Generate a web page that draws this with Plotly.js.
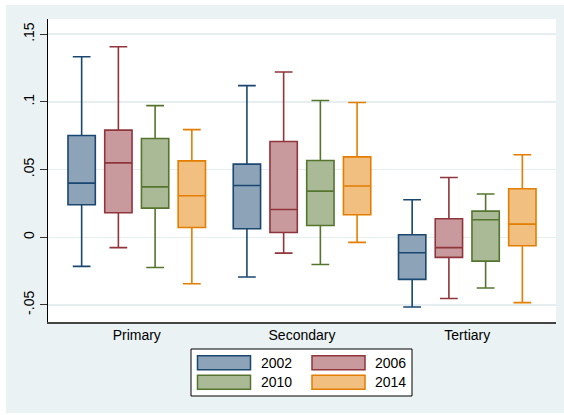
<!DOCTYPE html>
<html>
<head>
<meta charset="utf-8">
<script src="https://cdn.plot.ly/plotly-3.0.1.min.js"></script>
<style>
  html, body { margin: 0; padding: 0; background: #ffffff; width: 564px; height: 415px; overflow: hidden; }
  #chart { position: absolute; left: 6px; top: 5px; width: 558px; height: 408px; }
</style>
</head>
<body>
<div id="chart"></div>
<script>
// ---- Data ----
var categories = ['Primary', 'Secondary', 'Tertiary'];
var years = ['2002', '2006', '2010', '2014'];

var upper2002 = [0.1333, 0.1120, 0.0277];
var q3_2002   = [0.0751, 0.0540, 0.0018];
var med2002   = [0.0400, 0.0382, -0.0114];
var q1_2002   = [0.0240, 0.0063, -0.0311];
var lower2002 = [-0.0215, -0.0294, -0.0515];

var upper2006 = [0.1407, 0.1221, 0.0441];
var q3_2006   = [0.0791, 0.0707, 0.0137];
var med2006   = [0.0549, 0.0205, -0.0077];
var q1_2006   = [0.0181, 0.0035, -0.0149];
var lower2006 = [-0.0077, -0.0117, -0.0452];

var upper2010 = [0.0972, 0.1010, 0.0319];
var q3_2010   = [0.0729, 0.0567, 0.0193];
var med2010   = [0.0372, 0.0341, 0.0129];
var q1_2010   = [0.0215, 0.0087, -0.0176];
var lower2010 = [-0.0223, -0.0201, -0.0375];

var upper2014 = [0.0795, 0.0995, 0.0609];
var q3_2014   = [0.0564, 0.0594, 0.0358];
var med2014   = [0.0306, 0.0378, 0.0097];
var q1_2014   = [0.0072, 0.0166, -0.0063];
var lower2014 = [-0.0343, -0.0038, -0.0483];

var yTickVals = [-0.05, 0, 0.05, 0.1, 0.15];
var yTickText = ['-.05', '0', '.05', '.1', '.15'];

// ---- Styles ----
var lineColors = ['#1A476F', '#90353B', '#55752F', '#E37E00'];
var fillColors = ['#8CA3B8', '#C89A9D', '#AABA97', '#F1BF80'];
var FONT = 'Liberation Sans, Arial, Helvetica, sans-serif';

var stats = [
  [upper2002, q3_2002, med2002, q1_2002, lower2002],
  [upper2006, q3_2006, med2006, q1_2006, lower2006],
  [upper2010, q3_2010, med2010, q1_2010, lower2010],
  [upper2014, q3_2014, med2014, q1_2014, lower2014]
];

var traces = years.map(function (yr, i) {
  var s = stats[i];
  return {
    type: 'box',
    name: yr,
    x: categories,
    upperfence: s[0],
    q3: s[1],
    median: s[2],
    q1: s[3],
    lowerfence: s[4],
    fillcolor: fillColors[i],
    line: { color: lineColors[i], width: 1.6 },
    whiskerwidth: 0.65,
    showlegend: false,
    hoverinfo: 'skip'
  };
});

// ---- Manual legend (Stata-style wide keys) ----
var L = 48, R = 556, T = 19, B = 322;
function px(x) { return (x - L) / (R - L); }
function py(y) { return (B - y) / (B - T); }

var shapes = [{
  type: 'rect', xref: 'paper', yref: 'paper', layer: 'above',
  x0: px(191), x1: px(412), y0: py(396), y1: py(349),
  line: { color: '#000000', width: 1 }, fillcolor: '#ffffff'
}];
var annotations = [];
var keyX = [197.5, 312];
var keyY = [355.7, 375.2];
var keyW = 53, keyH = 14;
years.forEach(function (yr, i) {
  var col = i % 2, row = Math.floor(i / 2);
  shapes.push({
    type: 'rect', xref: 'paper', yref: 'paper', layer: 'above',
    x0: px(keyX[col]), x1: px(keyX[col] + keyW),
    y0: py(keyY[row] + keyH), y1: py(keyY[row]),
    line: { color: lineColors[i], width: 1.5 }, fillcolor: fillColors[i]
  });
  annotations.push({
    xref: 'paper', yref: 'paper', xanchor: 'left', yanchor: 'middle',
    x: px(keyX[col] + keyW + 8), y: py(keyY[row] + keyH / 2),
    text: yr, showarrow: false,
    font: { family: FONT, size: 14, color: '#000000' }
  });
});

var layout = {
  width: 558, height: 408,
  margin: { l: 42, r: 8, t: 14, b: 91, pad: 0 },
  paper_bgcolor: '#EAF2F3',
  plot_bgcolor: '#ffffff',
  boxmode: 'group',
  boxgap: 0.111,
  boxgroupgap: 0.256,
  showlegend: false,
  font: { family: FONT, size: 14, color: '#000000' },
  xaxis: {
    type: 'category',
    range: [-0.537, 2.537],
    showline: true, linecolor: '#444444', linewidth: 1.5,
    ticks: '', showgrid: false, zeroline: false,
    tickfont: { family: FONT, size: 14, color: '#000000' }
  },
  yaxis: {
    range: [-0.0626, 0.1612],
    tickvals: yTickVals, ticktext: yTickText,
    tickangle: -90,
    ticks: 'outside', ticklen: 7, tickcolor: '#333333', tickwidth: 1,
    showline: true, linecolor: '#000000', linewidth: 1,
    showgrid: true, gridcolor: '#E6EEF0', gridwidth: 1.5,
    zeroline: false,
    tickfont: { family: FONT, size: 14, color: '#000000' }
  },
  shapes: shapes,
  annotations: annotations
};

Plotly.newPlot('chart', traces, layout, { staticPlot: true, displayModeBar: false });
</script>
</body>
</html>
